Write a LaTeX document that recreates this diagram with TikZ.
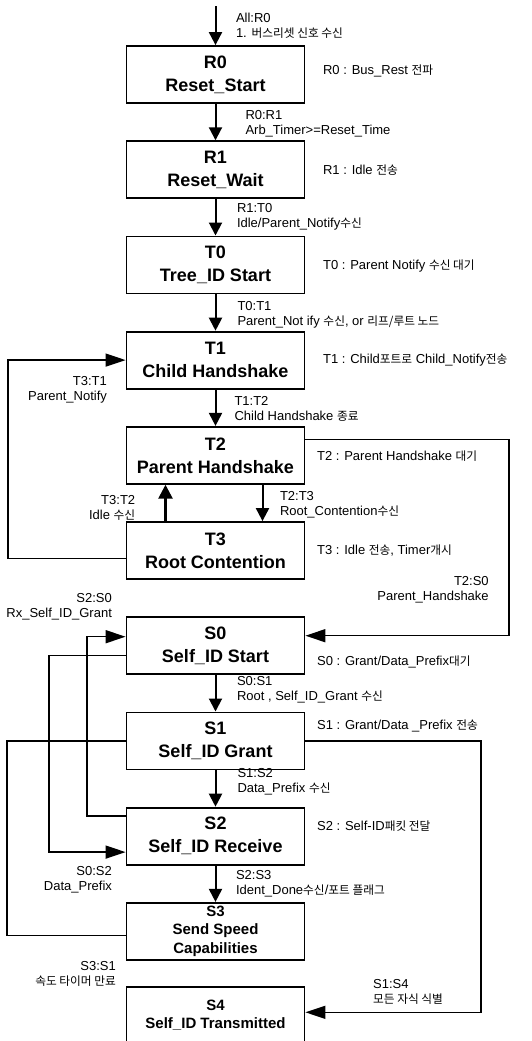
\documentclass[tikz,border=0pt]{standalone}
\usepackage{fontspec}
\setmainfont{Liberation Sans}
\newfontfamily\krfont[Scale=0.9]{Noto Sans CJK KR}
\newcommand{\ko}[1]{{\krfont #1}}
\usetikzlibrary{arrows.meta, positioning, calc}

\begin{document}
\begin{tikzpicture}[
    x=1pt, y=1pt,
    node distance=36.4pt,
    every node/.style={inner sep=0pt},
    state/.style={rectangle, draw, line width=1.8pt, minimum width=178pt, minimum height=57pt,
                  align=center, font=\fontsize{18}{23}\selectfont\bfseries},
    smallstate/.style={state, font=\fontsize{15}{18.5}\selectfont\bfseries},
    trans/.style={font=\fontsize{13}{15}\selectfont, align=left},
    note/.style={font=\fontsize{13}{15}\selectfont, align=left},
    flow/.style={line width=2pt, -{Triangle[length=13pt, width=13pt]}},
    loopback/.style={line width=1.4pt, -{Triangle[length=20pt, width=13pt]}}
]
\useasboundingbox[fill=white] (0,0) rectangle (532,-1041);

% --- States ---
\node[state] (R0) at (215.5,-74.5) {R0\\Reset\_Start};
\node[state, below=of R0] (R1) {R1\\Reset\_Wait};
\node[state, below=of R1] (T0) {T0\\Tree\_ID Start};
\node[state, below=of T0] (T1) {T1\\Child Handshake};
\node[state, below=of T1] (T2) {T2\\Parent Handshake};
\node[state, below=of T2] (T3) {T3\\Root Contention};
\node[state, below=of T3] (S0) {S0\\Self\_ID Start};
\node[state, below=of S0] (S1) {S1\\Self\_ID Grant};
\node[state, below=of S1] (S2) {S2\\Self\_ID Receive};
\node[smallstate, below=of S2] (S3) {S3\\Send Speed\\Capabilities};
\node[smallstate, below=25.2pt of S3] (S4) {S4\\Self\_ID Transmitted};
\coordinate[above=39pt of R0.north] (entry);

% --- State notes ---
\node[note, right=17.5pt of R0, yshift=4pt] (nR0) {R0 : Bus\_Rest \ko{전파}};
\node[note, right=17.5pt of R1] (nR1) {R1 : Idle \ko{전송}};
\node[note, right=17.5pt of T0, yshift=-1pt] (nT0) {T0 : Parent Notify \ko{수신 대기}};
\node[note, right=17.5pt of T1] (nT1) {T1 : Child\ko{포트로} Child\_Notify\ko{전송}};
\node[note, right=11.5pt of T2, yshift=-1pt] (nT2) {T2 : Parent Handshake \ko{대기}};
\node[note, right=11.5pt of T3] (nT3) {T3 : Idle \ko{전송}, Timer\ko{개시}};
\node[note, right=11.5pt of S0, yshift=-16pt] (nS0) {S0 : Grant/Data\_Prefix\ko{대기}};
\node[note, right=11.5pt of S1, yshift=15pt] (nS1) {S1 : Grant/Data \_Prefix \ko{전송}};
\node[note, right=11.5pt of S2, yshift=10pt] (nS2) {S2 : Self-ID\ko{패킷 전달}};

% --- Main transitions ---
\draw[flow] (entry) -- node[trans, right=19.5pt] (lAll) {All:R0\\1. \ko{버스리셋 신호 수신}} (R0);
\draw[flow] (R0) -- node[trans, right=29pt, yshift=-2pt] (lR0R1) {R0:R1\\Arb\_Timer>=Reset\_Time} (R1);
\draw[flow] (R1) -- node[trans, right=20.5pt] (lR1T0) {R1:T0\\Idle/Parent\_Notify\ko{수신}} (T0);
\draw[flow] (T0) -- node[trans, right=21pt, yshift=-2pt] (lT0T1) {T0:T1\\Parent\_Not ify \ko{수신}, or \ko{리프/루트 노드}} (T1);
\draw[flow] (T1) -- node[trans, right=18pt, yshift=-1pt] (lT1T2) {T1:T2\\Child Handshake \ko{종료}} (T2);
\draw[flow] ([xshift=47pt]T2.south) -- node[trans, right=16.5pt, yshift=-2pt] (lT2T3) {T2:T3\\Root\_Contention\ko{수신}} ([xshift=47pt]T3.north);
\draw[line width=2.6pt, -{Triangle[length=14pt, width=14pt]}] ([xshift=-50pt]T3.north)
  -- node[trans, align=right, left=29pt, yshift=-5pt] (lT3T2) {T3:T2\\Idle \ko{수신}} ([xshift=-50pt]T2.south);
\draw[flow] (S0) -- node[trans, right=20.5pt, yshift=4pt] (lS0S1) {S0:S1\\Root , Self\_ID\_Grant \ko{수신}} (S1);
\draw[flow] (S1) -- node[trans, right=21pt, yshift=7pt] (lS1S2) {S1:S2\\Data\_Prefix \ko{수신}} (S2);
\draw[flow] (S2) -- node[trans, right=19.5pt] (lS2S3) {S2:S3\\Ident\_Done\ko{수신}/\ko{포트 플래그}} (S3);

% --- Loop-back transitions ---
\draw[loopback] ([yshift=-8pt]T3.west) -- ++(-117.5,0) |- (T1.west);
\node[trans, align=right, below left=16pt and 18.5pt of T1.west] (lT3T1) {T3:T1\\Parent\_Notify};

\draw[loopback] ([yshift=16pt]T2.east) -- ++(203.5,0) |- ([yshift=10pt]S0.east);
\node[trans, align=right, anchor=south east] (lT2S0) at ([shift={(183.5,13)}]S0.north east) {T2:S0\\Parent\_Handshake};

\draw[loopback] ([yshift=20pt]S2.west) -- ++(-38.5,0) |- ([yshift=9pt]S0.west);
\node[trans, align=right, above left=-4pt and 13.5pt of S0.north west] (lS2S0) {S2:S0\\Rx\_Self\_ID\_Grant};

\draw[loopback] ([yshift=-10pt]S0.west) -- ++(-76.5,0) |- ([yshift=-16pt]S2.west);
\node[trans, align=right, below left=1pt and 13.5pt of S2.south west] (lS0S2) {S0:S2\\Data\_Prefix};

\draw[line width=1.4pt] ([yshift=-4pt]S3.west) -- ++(-118.5,0) |- (S1.west);
\node[trans, align=right, below left=1pt and 9.5pt of S3.south west] (lS3S1) {S3:S1\\\ko{속도 타이머 만료}};

\draw[loopback] (S1.east) -- ++(175.5,0) |- ([yshift=3pt]S4.east);
\node[trans, above right=11pt and 67.5pt of S4.east] (lS1S4) {S1:S4\\\ko{모든 자식 식별}};

\end{tikzpicture}
\end{document}
